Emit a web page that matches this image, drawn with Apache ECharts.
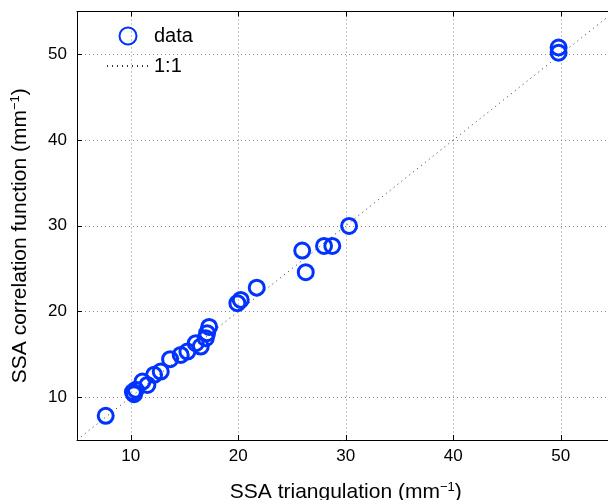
<!DOCTYPE html>
<html>
<head>
<meta charset="utf-8">
<script src="https://cdn.jsdelivr.net/npm/echarts@6/dist/echarts.min.js"></script>
<style>
  html, body { margin: 0; padding: 0; background: #fff; }
  #chart { width: 608px; height: 500px; }
</style>
</head>
<body>
<div id="chart"></div>
<script>
// SSA from triangulation (x) vs SSA from the correlation function (y), in mm^-1
const ssaTriangulation = [7.67, 10.31, 10.47, 10.2, 11.09, 11.55, 12.17, 12.79, 13.66, 14.65, 15.27,
  16.05, 16.51, 16.98, 17.1, 17.29, 19.92, 20.23, 21.72, 25.95, 26.28, 27.98, 28.75, 30.31, 49.8, 49.8];
const ssaCorrelation = [7.82, 10.35, 10.85, 10.6, 11.82, 11.43, 12.6, 12.99, 14.43, 14.93, 15.32,
  16.3, 15.9, 16.88, 17.46, 18.2, 20.96, 21.35, 22.78, 27.1, 24.58, 27.64, 27.64, 29.98, 50.8, 50.2];
// identity reference line end points
const identityLine = [5, 55];
const axisMin = 5, axisMax = 55;

const points = ssaTriangulation.map((x, i) => [x, ssaCorrelation[i]]);
const font = 'Liberation Sans, Arial, Helvetica, sans-serif';
const blue = '#0033ff';

const supStyle = { fontSize: 13, verticalAlign: 'top', padding: [0, 0, 9, 0], color: '#000', fontFamily: font };

const baseAxis = {
  min: axisMin, max: axisMax, splitNumber: 5,
  axisLine: { show: true, onZero: false, lineStyle: { color: '#000', width: 1 } },
  axisTick: { show: true, inside: true, length: 5, lineStyle: { color: '#000' } },
  splitLine: { show: true, lineStyle: { color: '#8a8a8a', type: [1, 3], width: 1 } },
  axisLabel: { showMinLabel: false, showMaxLabel: false, color: '#000', fontSize: 17, fontFamily: font },
  nameLocation: 'middle'
};

const chart = echarts.init(document.getElementById('chart'), null, { renderer: 'canvas' });
chart.setOption({
  animation: false,
  backgroundColor: '#fff',
  grid: { left: 77, top: 11.5, width: 537.5, height: 428.5, containLabel: false, outerBoundsMode: 'none' },
  xAxis: [
    Object.assign({}, baseAxis, {
      type: 'value', position: 'bottom',
      name: 'SSA triangulation (mm{sup|−1})', nameGap: 41,
      nameTextStyle: { color: '#000', fontSize: 21, fontFamily: font, rich: { sup: supStyle } },
      axisLabel: Object.assign({}, baseAxis.axisLabel, { margin: 8 })
    }),
    {
      type: 'value', position: 'top', min: axisMin, max: axisMax, splitNumber: 5,
      axisLine: { show: true, lineStyle: { color: '#000' } },
      axisTick: { show: true, inside: true, length: 5, lineStyle: { color: '#000' } },
      axisLabel: { show: false }, splitLine: { show: false }
    }
  ],
  yAxis: [
    Object.assign({}, baseAxis, {
      type: 'value', position: 'left',
      name: 'SSA correlation function (mm{sup|−1})', nameGap: 46,
      nameTextStyle: { color: '#000', fontSize: 21, fontFamily: font, padding: [0, 20, 0, 0], rich: { sup: supStyle } },
      axisLabel: Object.assign({}, baseAxis.axisLabel, { margin: 10 })
    })
  ],
  legend: {
    orient: 'vertical', left: 101, top: 21,
    itemWidth: 42, itemHeight: 17, itemGap: 10,
    textStyle: { color: '#000', fontSize: 20, fontFamily: font },
    data: [
      { name: 'data' },
      { name: '1:1', itemStyle: { color: 'rgba(0,0,0,0)', borderWidth: 0, opacity: 0 } }
    ]
  },
  series: [
    {
      name: 'data', type: 'scatter', data: points,
      symbol: 'circle', symbolSize: 15,
      itemStyle: { color: 'rgba(0,0,0,0)', borderColor: blue, borderWidth: 3, opacity: 1 },
      z: 3
    },
    {
      name: '1:1', type: 'line',
      data: [[identityLine[0], identityLine[0]], [identityLine[1], identityLine[1]]],
      symbol: 'none',
      lineStyle: { color: '#333', width: 1, type: [1, 4] },
      itemStyle: { color: '#333' },
      z: 2
    }
  ]
});
</script>
</body>
</html>
